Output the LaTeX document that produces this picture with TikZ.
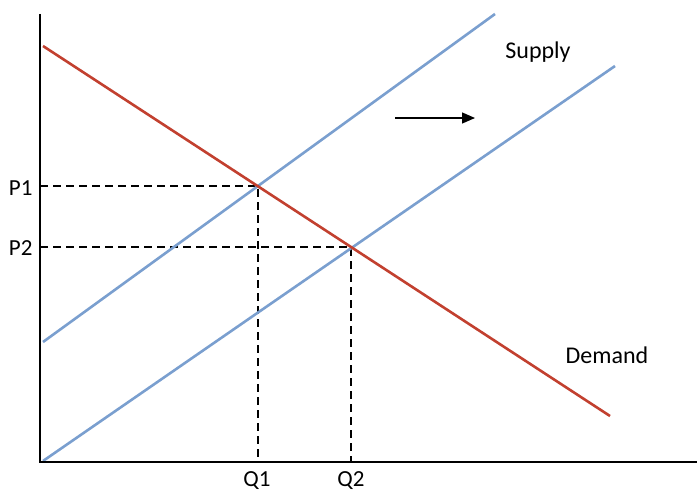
\documentclass[tikz,border=0pt]{standalone}
\usepackage{fontspec}
\setmainfont{Carlito}
\usetikzlibrary{positioning, arrows.meta}
\definecolor{curveDemand}{HTML}{C2402F}
\definecolor{curveSupply}{HTML}{7A9FCF}

\begin{document}
\begin{tikzpicture}[
  x=1pt, y=-1pt,
  axisline/.style={draw=black, line width=1.6pt},
  demandline/.style={draw=curveDemand, line width=2.6pt},
  supplyline/.style={draw=curveSupply, line width=2.6pt},
  guideline/.style={draw=black, line width=1.1pt, dash pattern=on 8pt off 5pt},
  shiftarrow/.style={draw=black, line width=1.3pt, -{Triangle[length=13pt, width=11pt]}},
  ticklabel/.style={font=\fontsize{23}{27}\selectfont, anchor=base},
  curvelabel/.style={font=\fontsize{24}{28}\selectfont, anchor=base}
]
  %% --- frame (unit: pixel of the reference) ---
  \useasboundingbox (0,0) rectangle (700,492);

  %% --- axes ---
  \coordinate (origin) at (40,462);
  \coordinate (ytop) at (40,14);
  \coordinate (xend) at (697,462);

  %% --- curves: demand and the two supply lines ---
  \coordinate (demandA) at (43,46);
  \coordinate (demandB) at (610,416);
  \coordinate (supplyA) at (43,342);
  \coordinate (supplyB) at (495,14);
  \coordinate (supplyshiftA) at (43,461);
  \coordinate (supplyshiftB) at (615,66);

  %% --- equilibria and their projections on the axes ---
  \coordinate (eqone) at (258,186);
  \coordinate (eqtwo) at (351,247);
  \coordinate (pone) at (40,186);
  \coordinate (ptwo) at (40,247);
  \coordinate (qone) at (258,462);
  \coordinate (qtwo) at (351,462);

  \draw[guideline] (pone) -- (eqone) -- (qone);
  \draw[guideline] (ptwo) -- (eqtwo) -- (qtwo);

  \draw[supplyline] (supplyA) -- (supplyB);
  \draw[supplyline] (supplyshiftA) -- (supplyshiftB);
  \draw[demandline] (demandA) -- (demandB);

  \draw[axisline] (ytop) -- (origin) -- (xend);

  %% --- shift of supply ---
  \coordinate (shiftA) at (395,118);
  \coordinate (shiftB) at (475,118);
  \draw[shiftarrow] (shiftA) -- (shiftB);

  %% --- labels ---
  \node[ticklabel, anchor=base east] (labelpone) at (36,195) {P1};
  \node[ticklabel, anchor=base east] (labelptwo) at (36,255) {P2};
  \node[ticklabel] (labelqone) at (257,486) {Q1};
  \node[ticklabel] (labelqtwo) at (351,486) {Q2};
  \node[curvelabel] (labelsupply) at (538,59) {Supply};
  \node[curvelabel] (labeldemand) at (607,363) {Demand};
\end{tikzpicture}
\end{document}
